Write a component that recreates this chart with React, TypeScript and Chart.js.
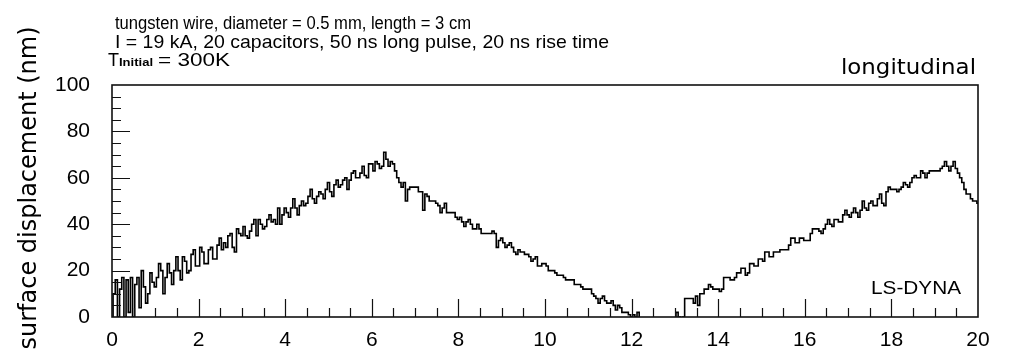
import { useEffect, useRef } from "react";
import { Chart, registerables } from "chart.js";

Chart.register(...registerables);

// sampling grid of the simulation output (ns)
const TIME_START = 0;
const TIME_STEP = 0.05;

// surface displacement (nm)
const disp0to5 = [
  0, 10, 16, 0, 12, 17, 0, 16, 2, 17, 0, 14, 17, 4, 20, 13, 6, 10, 19, 15,
  13, 17, 23, 20, 10, 17, 23, 19, 14, 20, 26, 20, 16, 26, 24, 19, 20, 27, 29, 22,
  22, 30, 28, 23, 23, 29, 30, 25, 25, 31, 34, 29, 32, 30, 35, 36, 30, 28, 38, 36,
  35, 39, 35, 34, 37, 40, 42, 35, 42, 40, 38, 39, 42, 44, 41, 42, 40, 47, 40, 44,
  47, 45, 43, 47, 51, 47, 44, 48, 50, 48, 49, 52, 55, 51, 49, 52, 54, 53, 51, 55,
];
const disp5to10 = [
  58, 54, 52, 57, 59, 56, 57, 59, 60, 55, 59, 62, 63, 60, 60, 62, 65, 61, 60, 66,
  66, 63, 67, 66, 64, 65, 71, 68, 65, 67, 66, 63, 60, 58, 56, 58, 50, 55, 56, 56,
  56, 56, 54, 54, 46, 53, 52, 50, 50, 50, 49, 48, 45, 47, 49, 45, 45, 45, 45, 43,
  42, 43, 41, 39, 41, 42, 40, 38, 38, 40, 38, 36, 36, 36, 36, 36, 37, 36, 30, 33,
  34, 32, 30, 31, 32, 30, 28, 27, 29, 28, 28, 27, 27, 26, 24, 25, 26, 22, 22, 23,
];
const disp10to15 = [
  23, 22, 20, 20, 20, 19, 18, 18, 18, 17, 16, 16, 16, 16, 14, 14, 14, 13, 12, 12,
  12, 12, 10, 9, 8, 6, 8, 9, 7, 6, 6, 7, 5, 3, 5, 4, 2, 2, 2, 1,
  0, 1, 0, 2, -1, -2, -2, -3, -3, -3, -3, -3, -3, -3, -3, -2, -2, -2, -2, -1,
  -1, 2, 0, -1, 0, 8, 8, 8, 8, 6, 9, 5, 10, 10, 12, 12, 14, 13, 12, 12,
  12, 11, 12, 17, 17, 17, 16, 16, 17, 19, 19, 21, 21, 18, 19, 23, 23, 22, 22, 25,
];
const disp15to20 = [
  25, 24, 28, 28, 26, 26, 28, 28, 28, 29, 29, 29, 29, 31, 34, 34, 32, 32, 34, 34,
  33, 33, 33, 36, 38, 38, 38, 37, 36, 38, 40, 42, 40, 39, 42, 42, 41, 41, 44, 46,
  44, 43, 45, 47, 45, 43, 46, 50, 47, 46, 49, 50, 48, 48, 51, 53, 49, 48, 54, 56,
  55, 55, 55, 54, 55, 56, 58, 57, 56, 58, 60, 61, 60, 60, 63, 62, 60, 62, 63, 63,
  63, 63, 63, 64, 65, 67, 65, 63, 65, 67, 64, 62, 60, 58, 55, 53, 53, 51, 50, 50,
  49,
];

const X_MIN = 0;
const X_MAX = 20;
const X_MAJOR = 2;
const X_MINOR = 0.5;
const Y_MIN = 0;
const Y_MAX = 100;
const Y_MAJOR = 20;
const Y_MINOR = 5;

const TITLE_LINE_1 = "tungsten wire, diameter = 0.5 mm, length = 3 cm";
const TITLE_LINE_2 = "I = 19 kA, 20 capacitors, 50 ns long pulse, 20 ns rise time";
const TITLE_T = "T";
const TITLE_T_SUB = "Initial";
const TITLE_T_REST = "= 300K";
const CORNER_LABEL = "longitudinal";
const CODE_LABEL = "LS-DYNA";
const Y_TITLE = "surface displacement (nm)";

const TICK_FONT = "'Liberation Sans', Arial, sans-serif";

function fitText(ctx: CanvasRenderingContext2D, text: string, x: number, y: number, font: string, width: number, align: "left" | "right") {
  ctx.save();
  ctx.font = font;
  ctx.textAlign = "left";
  const w = ctx.measureText(text).width;
  const sx = width / w;
  const left = align === "left" ? x : x - width;
  ctx.translate(left, y);
  ctx.scale(sx, 1);
  ctx.fillText(text, 0, 0);
  ctx.restore();
}

const framePlugin = {
  id: "framePlugin",
  afterDatasetsDraw(chart: any) {
    const { ctx, chartArea: a, scales } = chart;
    const x = scales.x;
    const y = scales.y;
    ctx.save();
    ctx.strokeStyle = "#111";
    ctx.lineWidth = 1.6;
    ctx.strokeRect(a.left, a.top, a.right - a.left, a.bottom - a.top);
    ctx.beginPath();
    ctx.lineWidth = 1.2;
    for (let v = Y_MIN + Y_MINOR; v < Y_MAX - 1e-9; v += Y_MINOR) {
      const py = Math.round(y.getPixelForValue(v)) + 0.5;
      const major = Math.abs(v / Y_MAJOR - Math.round(v / Y_MAJOR)) < 1e-6;
      ctx.moveTo(a.left, py);
      ctx.lineTo(a.left + (major ? 18 : 9), py);
    }
    for (let v = X_MIN + X_MINOR; v < X_MAX - 1e-9; v += X_MINOR) {
      const px = Math.round(x.getPixelForValue(v)) + 0.5;
      const major = Math.abs(v / X_MAJOR - Math.round(v / X_MAJOR)) < 1e-6;
      ctx.moveTo(px, a.bottom);
      ctx.lineTo(px, a.bottom - (major ? 18 : 9));
    }
    ctx.stroke();

    ctx.fillStyle = "#000";
    ctx.textBaseline = "alphabetic";
    const titleFont = `19px ${TICK_FONT}`;
    fitText(ctx, TITLE_LINE_1, 115, 29, `18px ${TICK_FONT}`, 356, "left");
    fitText(ctx, TITLE_LINE_2, 115, 48, titleFont, 494, "left");
    fitText(ctx, TITLE_T, 108, 66, titleFont, 11, "left");
    fitText(ctx, TITLE_T_SUB, 119, 66, `bold 10px ${TICK_FONT}`, 34, "left");
    fitText(ctx, TITLE_T_REST, 158, 66, titleFont, 72, "left");

    fitText(ctx, CORNER_LABEL, 976, 74, "21px 'DejaVu Sans', sans-serif", 135, "right");
    fitText(ctx, CODE_LABEL, 961, 294, `19px ${TICK_FONT}`, 90, "right");

    ctx.translate(36, 188);
    ctx.rotate(-Math.PI / 2);
    ctx.textAlign = "center";
    ctx.font = "24px 'DejaVu Sans', sans-serif";
    ctx.fillText(Y_TITLE, 0, 0);
    ctx.restore();
  },
};

export default function App() {
  const canvasRef = useRef<HTMLCanvasElement | null>(null);

  useEffect(() => {
    document.body.style.margin = "0";
    const canvas = canvasRef.current;
    if (!canvas) return;
    const values = [...disp0to5, ...disp5to10, ...disp10to15, ...disp15to20];
    const points = values.map((v, i) => ({ x: TIME_START + i * TIME_STEP, y: v }));

    const chart = new Chart(canvas, {
      type: "line",
      data: {
        datasets: [
          {
            data: points,
            borderColor: "#000",
            borderWidth: 1.6,
            pointRadius: 0,
            stepped: "middle",
            fill: false,
          },
        ],
      },
      options: {
        animation: false,
        responsive: false,
        events: [],
        layout: { padding: { left: 0, right: 31, top: 85, bottom: 0 } },
        plugins: { legend: { display: false }, tooltip: { enabled: false }, title: { display: false } },
        scales: {
          x: {
            type: "linear",
            min: X_MIN,
            max: X_MAX,
            grid: { display: false, drawTicks: false },
            border: { display: false },
            ticks: {
              stepSize: X_MAJOR,
              padding: 11,
              color: "#000",
              font: { family: TICK_FONT, size: 21 },
              maxRotation: 0,
              autoSkip: false,
            },
            afterFit(scale: any) {
              scale.height = 45;
            },
          },
          y: {
            min: Y_MIN,
            max: Y_MAX,
            grid: { display: false, drawTicks: false },
            border: { display: false },
            ticks: {
              stepSize: Y_MAJOR,
              padding: 22,
              color: "#000",
              font: { family: TICK_FONT, size: 21 },
            },
            afterFit(scale: any) {
              scale.width = 112;
            },
          },
        },
      },
      plugins: [framePlugin],
    });
    return () => chart.destroy();
  }, []);

  return (
    <div style={{ width: 1009, height: 362, background: "#fff" }}>
      <canvas ref={canvasRef} width={1009} height={362} />
    </div>
  );
}
